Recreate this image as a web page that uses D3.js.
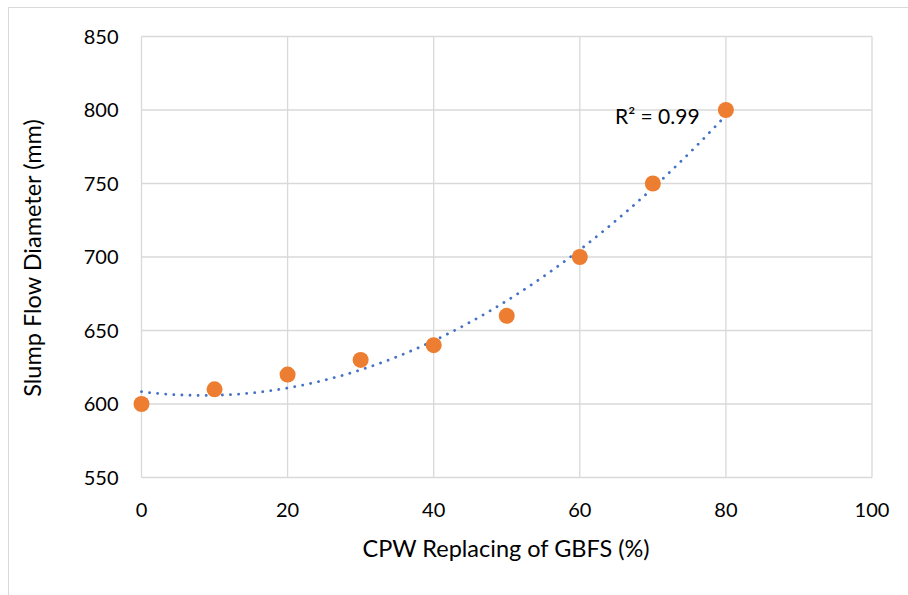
<!DOCTYPE html>
<html>
<head>
<meta charset="utf-8">
<script src="https://cdn.jsdelivr.net/npm/d3@7.9.0/dist/d3.min.js"></script>
<style>
  html, body { margin: 0; padding: 0; background: #fff; }
  svg { display: block; font-family: Lato, "Open Sans", sans-serif; }
</style>
</head>
<body>
<svg id="chart" width="908" height="595"></svg>
<script>
const replacing = [0, 10, 20, 30, 40, 50, 60, 70, 80];
const slumpFlow = [600, 610, 620, 630, 640, 660, 700, 750, 800];
const xTicks = [0, 20, 40, 60, 80, 100];
const yTicks = [550, 600, 650, 700, 750, 800, 850];
const r2Label = 'R² = 0.99';

const svg = d3.select('#chart');
const margin = { left: 141.5, right: 36, top: 36.5, bottom: 117.5 };
const width = 908, height = 595;

// outer chart frame
svg.append('rect')
  .attr('x', 8.5).attr('y', 7.5)
  .attr('width', 920).attr('height', 600)
  .attr('fill', 'none').attr('stroke', '#d9d9d9');

const x = d3.scaleLinear().domain([0, 100]).range([margin.left, width - margin.right]);
const y = d3.scaleLinear().domain([550, 850]).range([height - margin.bottom, margin.top]);

// gridlines
svg.append('g')
  .selectAll('line.h')
  .data(yTicks)
  .join('line')
  .attr('x1', x(0)).attr('x2', x(100))
  .attr('y1', (d) => y(d)).attr('y2', (d) => y(d))
  .attr('stroke', '#d9d9d9').attr('stroke-width', 1.3);

svg.append('g')
  .selectAll('line.v')
  .data(xTicks)
  .join('line')
  .attr('y1', y(550)).attr('y2', y(850))
  .attr('x1', (d) => x(d)).attr('x2', (d) => x(d))
  .attr('stroke', '#d9d9d9').attr('stroke-width', 1.3);

// tick labels
svg.append('g')
  .selectAll('text')
  .data(yTicks)
  .join('text')
  .attr('x', x(0) - 23)
  .attr('y', (d) => y(d))
  .attr('dy', '0.36em')
  .attr('text-anchor', 'end')
  .attr('font-size', 20)
  .attr('fill', '#000')
  .text((d) => d);

svg.append('g')
  .selectAll('text')
  .data(xTicks)
  .join('text')
  .attr('x', (d) => x(d))
  .attr('y', y(550) + 39)
  .attr('text-anchor', 'middle')
  .attr('font-size', 20)
  .attr('fill', '#000')
  .text((d) => d);

// axis titles
svg.append('text')
  .attr('x', 506)
  .attr('y', 557)
  .attr('text-anchor', 'middle')
  .attr('font-size', 23.5)
  .text('CPW Replacing of GBFS (%)');

svg.append('text')
  .attr('transform', `translate(41, 258) rotate(-90)`)
  .attr('text-anchor', 'middle')
  .attr('font-size', 23.5)
  .text('Slump Flow Diameter (mm)');

// quadratic least-squares trendline
function quadFit(xs, ys) {
  let s = [0, 0, 0, 0, 0], t = [0, 0, 0];
  xs.forEach((xi, i) => {
    for (let k = 0; k < 5; k++) s[k] += Math.pow(xi, k);
    for (let k = 0; k < 3; k++) t[k] += Math.pow(xi, k) * ys[i];
  });
  const m = [
    [s[0], s[1], s[2], t[0]],
    [s[1], s[2], s[3], t[1]],
    [s[2], s[3], s[4], t[2]]
  ];
  for (let i = 0; i < 3; i++) {
    for (let j = i + 1; j < 3; j++) {
      const f = m[j][i] / m[i][i];
      for (let k = i; k < 4; k++) m[j][k] -= f * m[i][k];
    }
  }
  const c = [0, 0, 0];
  for (let i = 2; i >= 0; i--) {
    let v = m[i][3];
    for (let k = i + 1; k < 3; k++) v -= m[i][k] * c[k];
    c[i] = v / m[i][i];
  }
  return c;
}

const coef = quadFit(replacing, slumpFlow);
const trendXs = d3.range(0, 80.01, 0.5);
const trendLine = d3.line()
  .x((d) => x(d))
  .y((d) => y(coef[0] + coef[1] * d + coef[2] * d * d));

svg.append('path')
  .datum(trendXs)
  .attr('d', trendLine)
  .attr('fill', 'none')
  .attr('stroke', '#4472c4')
  .attr('stroke-width', 2.8)
  .attr('stroke-linecap', 'round')
  .attr('stroke-dasharray', '0.1 8');

// points
svg.append('g')
  .selectAll('circle')
  .data(replacing)
  .join('circle')
  .attr('cx', (d) => x(d))
  .attr('cy', (d, i) => y(slumpFlow[i]))
  .attr('r', 8)
  .attr('fill', '#ed7d31');

svg.append('text')
  .attr('x', 615)
  .attr('y', 124)
  .attr('font-size', 21)
  .text(r2Label);
</script>
</body>
</html>
